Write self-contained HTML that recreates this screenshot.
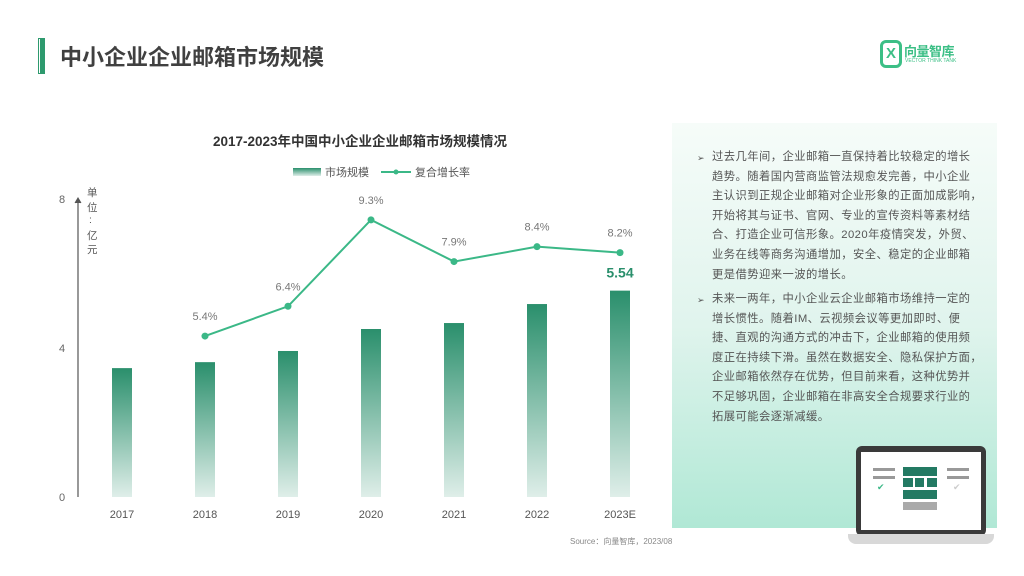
<!DOCTYPE html>
<html><head><meta charset="utf-8">
<style>
*{margin:0;padding:0;box-sizing:border-box}
body{width:1024px;height:576px;background:#fff;position:relative;overflow:hidden;font-family:"Liberation Sans","Noto Sans CJK SC",sans-serif}
.abs{position:absolute}
#panel{left:672px;top:123px;width:325px;height:405px;background:linear-gradient(180deg,#f6fcf9 0%,#e0f4ed 50%,#b0e8d5 100%)}
.para{position:absolute;left:712px;font-size:11.3px;color:#555;line-height:19.6px;white-space:nowrap;letter-spacing:0.45px}
.bul{position:absolute;left:697px;font-size:9px;color:#555}
</style></head><body>
<div class="abs" style="left:38px;top:38px;width:7px;height:36px;border:1px solid #2e9a6e;background:linear-gradient(90deg,#fff 0 1px,#2e9a6e 1px 5px,#fff 5px)"></div>
<div class="abs" style="left:60px;top:40px;font-size:22px;font-weight:bold;color:#404040">中小企业企业邮箱市场规模</div>
<div class="abs" style="left:878px;top:38px;width:100px;height:32px">
 <div style="position:absolute;left:2px;top:2px;width:22px;height:28px;border:3px solid #3cbf86;border-radius:6px;color:#3cbf86;font-weight:bold;font-size:15px;text-align:center;line-height:22px">X</div>
 <div style="position:absolute;left:26px;top:3px;font-size:13px;color:#3cbf86;font-weight:bold;letter-spacing:-0.5px">向量智库</div>
 <div style="position:absolute;left:27px;top:20px;font-size:5px;color:#3cbf86">VECTOR THINK TANK</div>
</div>

<div class="abs" style="left:80px;top:130px;width:560px;text-align:center;font-size:13.5px;font-weight:bold;color:#333">2017-2023年中国中小企业企业邮箱市场规模情况</div>

<svg class="abs" style="left:0;top:0" width="672" height="576">
<defs><linearGradient id="bg" x1="0" y1="0" x2="0" y2="1"><stop offset="0" stop-color="#2a8f6c"/><stop offset="1" stop-color="#2a8f6c" stop-opacity="0.15"/></linearGradient></defs>
<g id="legend">
 <rect x="293" y="168" width="28" height="8" fill="url(#bg)"/>
 <text x="325" y="176" font-size="11" fill="#555">市场规模</text>
 <line x1="381" y1="172" x2="411" y2="172" stroke="#3bb887" stroke-width="2"/><circle cx="396" cy="172" r="2.5" fill="#3bb887"/>
 <text x="415" y="176" font-size="11" fill="#555">复合增长率</text>
</g>
<line x1="78" y1="497" x2="78" y2="199" stroke="#555" stroke-width="1.2"/>
<path d="M75,203 L78,198 L81,203" fill="#555" stroke="#555"/>
<g font-size="10.5" fill="#555">
<text x="87" y="196">单</text><text x="87" y="211">位</text><text x="89" y="223">:</text><text x="87" y="239">亿</text><text x="87" y="253">元</text>
</g>
<g id="yt"></g><g id="bars"></g><g id="xt"></g><g id="line"></g>
</svg>
<script>
const categories=["2017","2018","2019","2020","2021","2022","2023E"];
const sizes=[3.46,3.62,3.92,4.51,4.67,5.18,5.54];
const rates=[null,5.4,6.4,9.3,7.9,8.4,8.2];
const rateLabels=["","5.4%","6.4%","9.3%","7.9%","8.4%","8.2%"];
const yTicks=[0,4,8];
const NS="http://www.w3.org/2000/svg";
const y0=497,yTop=199;
const yS=v=>y0-(v/8)*(y0-yTop);
const yR=v=>y0-(v/10)*(y0-yTop);
const xC=i=>122+i*83;
function mk(t,a,p,txt){const e=document.createElementNS(NS,t);for(const k in a)e.setAttribute(k,a[k]);if(txt!==undefined)e.textContent=txt;document.getElementById(p).appendChild(e);return e;}
yTicks.forEach(v=>{const e=mk('text',{x:62,y:yS(v)+4,'font-size':11,fill:'#666','text-anchor':'middle'},'yt',v);

});
categories.forEach((c,i)=>{
 const b=mk('rect',{x:xC(i)-10,y:yS(sizes[i]),width:20,height:y0-yS(sizes[i]),fill:'url(#bg)'},'bars');
 
 
 const t=mk('text',{x:xC(i),y:518,'font-size':11,fill:'#555','text-anchor':'middle'},'xt',c);
 
 
});
const last=sizes.length-1;
const vl=mk('text',{x:xC(last),y:yS(sizes[last])-13,'font-size':14,'font-weight':'bold',fill:'#2a8f6c','text-anchor':'middle'},'bars',sizes[last].toFixed(2));


let pts=[];rates.forEach((r,i)=>{if(r!==null)pts.push([xC(i),yR(r),i]);});
const pl=mk('polyline',{points:pts.map(p=>p[0]+','+p[1]).join(' '),fill:'none',stroke:'#3bb887','stroke-width':2},'line');


pts.forEach(p=>{
 const c=mk('circle',{cx:p[0],cy:p[1],r:3.5,fill:'#3bb887'},'line');
 
 
 const t=mk('text',{x:p[0],y:p[1]-16,'font-size':11,fill:'#777','text-anchor':'middle'},'line',rateLabels[p[2]]);
 
 
});
</script>

<div class="abs" style="left:570px;top:536px;font-size:8px;color:#888">Source：向量智库，2023/08</div>

<div class="abs" id="panel"></div>
<div class="bul" style="top:153px">➢</div>
<div class="para" style="top:148px">过去几年间，企业邮箱一直保持着比较稳定的增长<br>趋势。随着国内营商监管法规愈发完善，中小企业<br>主认识到正规企业邮箱对企业形象的正面加成影响，<br>开始将其与证书、官网、专业的宣传资料等素材结<br>合、打造企业可信形象。2020年疫情突发，外贸、<br>业务在线等商务沟通增加，安全、稳定的企业邮箱<br>更是借势迎来一波的增长。</div>
<div class="bul" style="top:295px">➢</div>
<div class="para" style="top:290px">未来一两年，中小企业云企业邮箱市场维持一定的<br>增长惯性。随着IM、云视频会议等更加即时、便<br>捷、直观的沟通方式的冲击下，企业邮箱的使用频<br>度正在持续下滑。虽然在数据安全、隐私保护方面，<br>企业邮箱依然存在优势，但目前来看，这种优势并<br>不足够巩固，企业邮箱在非高安全合规要求行业的<br>拓展可能会逐渐减缓。</div>

<div class="abs" style="left:840px;top:430px;width:184px;height:120px">
 <div style="position:absolute;left:16px;top:16px;width:130px;height:90px;background:#3a3a3a;border-radius:6px"></div>
 <div style="position:absolute;left:21px;top:22px;width:120px;height:78px;background:#fff"></div>
 <div style="position:absolute;left:8px;top:104px;width:146px;height:10px;background:#d8d8d8;border-radius:0 0 8px 8px"></div>
 <div style="position:absolute;left:63px;top:37px;width:34px;height:9px;background:#237a63"></div>
 <div style="position:absolute;left:63px;top:48px;width:10px;height:9px;background:#237a63"></div>
 <div style="position:absolute;left:75px;top:48px;width:9px;height:9px;background:#237a63"></div>
 <div style="position:absolute;left:87px;top:48px;width:10px;height:9px;background:#237a63"></div>
 <div style="position:absolute;left:63px;top:60px;width:34px;height:9px;background:#237a63"></div>
 <div style="position:absolute;left:63px;top:72px;width:34px;height:8px;background:#aaa"></div>
 <div style="position:absolute;left:33px;top:38px;width:22px;height:3px;background:#999"></div>
 <div style="position:absolute;left:33px;top:46px;width:22px;height:3px;background:#999"></div>
 <div style="position:absolute;left:37px;top:52px;color:#3bb887;font-size:9px">✔</div>
 <div style="position:absolute;left:107px;top:38px;width:22px;height:3px;background:#999"></div>
 <div style="position:absolute;left:107px;top:46px;width:22px;height:3px;background:#999"></div>
 <div style="position:absolute;left:113px;top:52px;color:#ccc;font-size:9px">✔</div>
</div>
</body></html>
